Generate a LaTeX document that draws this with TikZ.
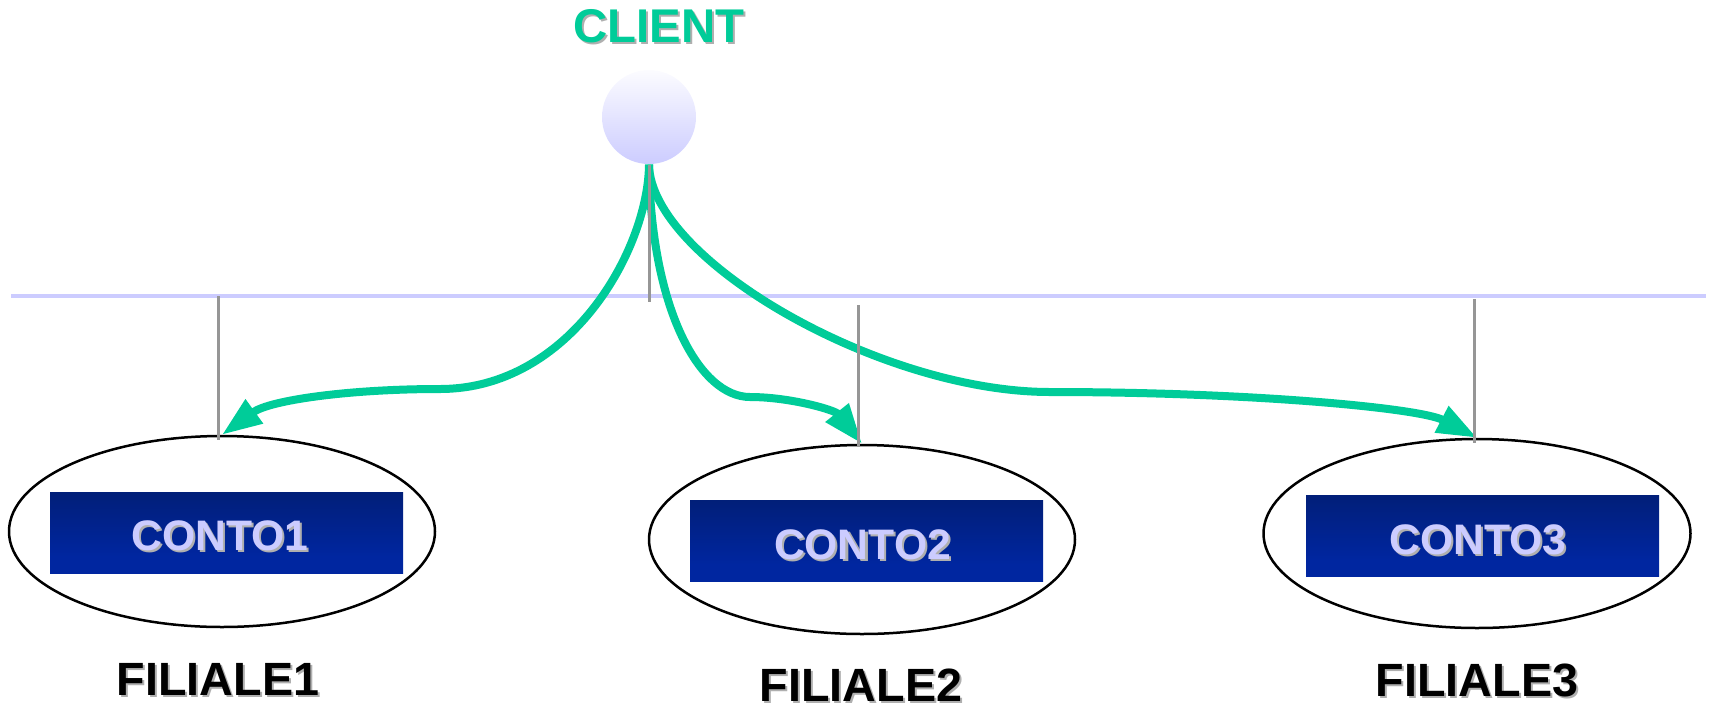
\documentclass[tikz,border=0pt]{standalone}
\usepackage{fontspec}
\setmainfont{Liberation Sans}
\usetikzlibrary{arrows.meta,shapes.geometric}

\definecolor{flowgreen}{RGB}{0,204,153}
\definecolor{buscol}{RGB}{204,204,255}
\definecolor{tapgray}{RGB}{150,150,150}
\definecolor{contoTop}{RGB}{2,26,96}
\definecolor{contoBot}{RGB}{0,38,160}
\definecolor{lavtext}{RGB}{204,204,255}
\definecolor{dropgray}{RGB}{175,175,175}
\definecolor{clienttop}{RGB}{252,252,255}

% dark blue account box: lighter blue in the lower part, darker at the top
\pgfdeclareverticalshading{contoshade}{100bp}{color(0bp)=(contoBot); color(35bp)=(contoBot); color(100bp)=(contoTop)}

% text with a small grey drop shadow behind it
\newcommand\dropped[2]{\makebox[0pt][l]{\kern0.6pt\raisebox{-0.6pt}{\textcolor{#1}{#2}}}#2}

\begin{document}
\begin{tikzpicture}[x=0.3pt,y=-0.3pt,
  flow/.style={draw=flowgreen, line width=2.4pt, -{Triangle[length=12pt,width=8.4pt]}},
  bus/.style={draw=buscol, line width=1pt},
  tap/.style={draw=tapgray, line width=0.9pt},
  branch/.style={ellipse, draw=black, line width=0.75pt, inner sep=0pt},
  contobox/.style={rectangle, shade, shading=contoshade, inner sep=0pt,
    minimum width=105.9pt, minimum height=24.3pt},
  contotext/.style={inner sep=0pt, text=lavtext, font=\bfseries\fontsize{12.8}{14}\selectfont},
  filtext/.style={inner sep=0pt, text=black, font=\bfseries\fontsize{14}{16}\selectfont},
  clienttext/.style={inner sep=0pt, text=flowgreen, font=\bfseries\fontsize{14.2}{16}\selectfont}]

\useasboundingbox (0,0) rectangle (1709,708);

% client
\node[clienttext] (cltxt) at (659,27.5) {\dropped{dropgray}{CLIENT}};
\node[circle, inner sep=0pt, minimum size=28.2pt, top color=clienttop, bottom color=buscol] (cl) at (649,117) {};

% branches
\node[branch, minimum width=127.8pt, minimum height=57.3pt] (f1) at (222,531.5) {};
\node[branch, minimum width=127.8pt, minimum height=56.7pt] (f2) at (862,539.5) {};
\node[branch, minimum width=128.1pt, minimum height=56.7pt] (f3) at (1477,533.5) {};

\node[contobox] (r1) at (226.5,532.5) {};
\node[contobox] (r2) at (866.5,540.5) {};
\node[contobox] (r3) at (1482.5,535.5) {};

\node[contotext] (c1) at (220,537) {\dropped{dropgray}{CONTO1}};
\node[contotext] (c2) at (862.5,545.5) {\dropped{dropgray}{CONTO2}};
\node[contotext] (c3) at (1478,540.5) {\dropped{dropgray}{CONTO3}};

\node[filtext] (l1) at (218,680) {\dropped{dropgray}{FILIALE1}};
\node[filtext] (l2) at (861,686) {\dropped{dropgray}{FILIALE2}};
\node[filtext] (l3) at (1477,681) {\dropped{dropgray}{FILIALE3}};

% network bus
\coordinate (busL) at (11,296);
\coordinate (busR) at (1706,296);
\draw[bus] (busL) -- (busR);

% requests from the client to each branch
\draw[flow] (cl.south) .. controls (648,250) and (570,389) .. (440,389)
  .. controls (350,389) and (270,400) .. (f1.north);
\draw[flow] (cl.south) .. controls (651,310) and (700,397) .. (750,397)
  .. controls (790,397) and (835,410) .. (f2.north);
\draw[flow] (cl.south) .. controls (651,260) and (880,392) .. (1050,392)
  .. controls (1250,392) and (1420,408) .. (f3.north);

% taps onto the bus
\coordinate (tap0) at (649,302);
\coordinate (tap1a) at (218,296);
\coordinate (tap1b) at (218,440);
\coordinate (tap2a) at (858.5,305);
\coordinate (tap2b) at (858.5,447);
\coordinate (tap3a) at (1474,299);
\coordinate (tap3b) at (1474,443);
\draw[tap] (cl.south) -- (tap0);
\draw[tap] (tap1a) -- (tap1b);
\draw[tap] (tap2a) -- (tap2b);
\draw[tap] (tap3a) -- (tap3b);

\end{tikzpicture}
\end{document}
